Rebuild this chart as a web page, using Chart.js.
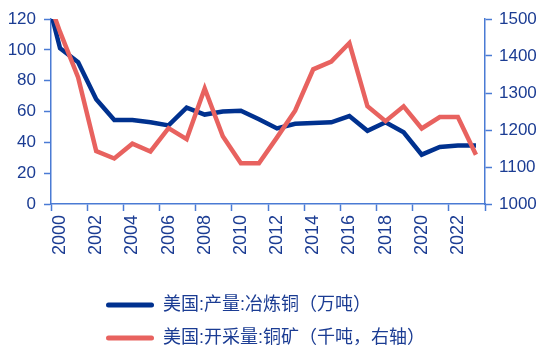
<!DOCTYPE html>
<html>
<head>
<meta charset="utf-8">
<script src="https://cdn.jsdelivr.net/npm/chart.js@4"></script>
<style>
  html, body { margin: 0; padding: 0; background: #fff; }
  #wrap { width: 550px; height: 353px; }
</style>
</head>
<body>
<div id="wrap"><canvas id="copperChart"></canvas></div>
<script>
// years (1999 sits just left of the axis, only its slope into 2000 shows)
const years = [1999, 2000, 2001, 2002, 2003, 2004, 2005, 2006, 2007, 2008, 2009, 2010, 2011,
               2012, 2013, 2014, 2015, 2016, 2017, 2018, 2019, 2020, 2021, 2022, 2023];
// 美国:产量:冶炼铜（万吨）
const smelterCopper = [147, 101, 92, 68, 54.5, 54.5, 53, 51, 62.5, 58, 60, 60.5, 55,
                       49, 52, 52.5, 53, 57, 47.5, 53, 46.5, 32, 37, 38, 38];
// 美国:开采量:铜矿（千吨，右轴）
const mineCopper = [1600, 1465, 1342, 1143, 1123, 1163, 1142, 1205, 1175, 1312, 1183, 1110, 1110,
                    1180, 1252, 1364, 1385, 1435, 1264, 1224, 1264, 1204, 1235, 1235, 1133];
const labelYears = [2000, 2002, 2004, 2006, 2008, 2010, 2012, 2014, 2016, 2018, 2020, 2022];
const leftTicks = [0, 20, 40, 60, 80, 100, 120];
const rightTicks = [1000, 1100, 1200, 1300, 1400, 1500];

const axisColor = '#4a7bd4';
const textColor = '#1b3c93';
const blue = '#00318f';
const red = '#e8625f';
const numFont = "'Liberation Sans', Arial, sans-serif";

// move the legend rows so they start under the plot like the original
const legendShift = {
    id: 'legendShift',
    afterLayout(chart) {
        chart.legend.left += 91;
        chart.legend.top += 4;
    }
};

const ctx = document.getElementById('copperChart');
new Chart(ctx, {
    type: 'line',
    data: {
        datasets: [
            {
                label: '美国:产量:冶炼铜（万吨）',
                data: years.map((y, i) => ({ x: y, y: smelterCopper[i] })),
                borderColor: blue,
                backgroundColor: blue,
                borderWidth: 4.5,
                pointRadius: 0,
                tension: 0,
                yAxisID: 'y',
                order: 2
            },
            {
                label: '美国:开采量:铜矿（千吨，右轴）',
                data: years.map((y, i) => ({ x: y, y: mineCopper[i] })),
                borderColor: red,
                backgroundColor: red,
                borderWidth: 4.5,
                pointRadius: 0,
                tension: 0,
                yAxisID: 'y1',
                order: 1
            }
        ]
    },
    options: {
        responsive: true,
        maintainAspectRatio: false,
        animation: false,
        layout: {
            padding: { top: 19, left: 0, right: 0, bottom: 0 }
        },
        plugins: {
            tooltip: { enabled: false },
            legend: {
                display: true,
                position: 'bottom',
                align: 'start',
                labels: {
                    boxWidth: 48,
                    boxHeight: 5,
                    padding: 15,
                    useBorderRadius: true,
                    borderRadius: 2.5,
                    color: textColor,
                    font: { size: 18, family: "'Liberation Sans', 'Noto Sans CJK SC', sans-serif" },
                    generateLabels: function(chart) {
                        return chart.data.datasets.map((ds, i) => ({
                            text: ds.label,
                            fillStyle: ds.borderColor,
                            strokeStyle: ds.borderColor,
                            lineWidth: 0,
                            borderRadius: 2.5,
                            fontColor: textColor,
                            datasetIndex: i
                        }));
                    }
                }
            }
        },
        scales: {
            x: {
                type: 'linear',
                min: 1999.5,
                max: 2023.5,
                afterBuildTicks: function(scale) {
                    const ticks = [];
                    for (let v = 1999.5; v <= 2023.5; v += 0.5) ticks.push({ value: v });
                    scale.ticks = ticks;
                },
                afterFit: function(scale) {
                    scale.height = 73;
                },
                border: { display: true, color: axisColor, width: 1.5 },
                grid: {
                    drawOnChartArea: false,
                    drawTicks: true,
                    tickLength: 7,
                    tickWidth: 1.5,
                    tickColor: function(c) {
                        const v = c.tick ? c.tick.value : 0;
                        return Math.abs(((v - 1999.5) % 2)) < 0.01 ? axisColor : 'rgba(0,0,0,0)';
                    }
                },
                ticks: {
                    autoSkip: false,
                    minRotation: 90,
                    maxRotation: 90,
                    padding: 4,
                    color: textColor,
                    font: { size: 18, family: numFont },
                    callback: function(value) {
                        return labelYears.includes(value) ? String(value) : '';
                    }
                }
            },
            y: {
                position: 'left',
                min: 0,
                max: 120,
                afterBuildTicks: function(scale) {
                    scale.ticks = leftTicks.map(v => ({ value: v }));
                },
                afterFit: function(scale) {
                    scale.width = 51;
                },
                border: { display: true, color: axisColor, width: 1.5 },
                grid: {
                    drawOnChartArea: false,
                    tickLength: 7,
                    tickWidth: 1.5,
                    tickColor: axisColor
                },
                ticks: {
                    padding: 8,
                    color: textColor,
                    font: { size: 17, family: numFont },
                    callback: value => String(value)
                }
            },
            y1: {
                position: 'right',
                min: 1000,
                max: 1500,
                afterBuildTicks: function(scale) {
                    scale.ticks = rightTicks.map(v => ({ value: v }));
                },
                afterFit: function(scale) {
                    scale.width = 65;
                },
                border: { display: true, color: axisColor, width: 1.5 },
                grid: {
                    drawOnChartArea: false,
                    tickLength: 7,
                    tickWidth: 1.5,
                    tickColor: axisColor
                },
                ticks: {
                    padding: 7,
                    color: textColor,
                    font: { size: 17, family: numFont },
                    callback: value => String(value)
                }
            }
        }
    },
    plugins: [legendShift]
});
</script>
</body>
</html>
